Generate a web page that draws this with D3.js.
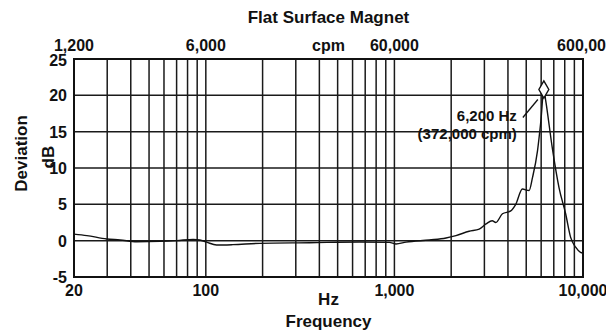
<!DOCTYPE html>
<html>
<head>
<meta charset="utf-8">
<script src="https://cdn.jsdelivr.net/npm/d3@7"></script>
<style>
  body { margin: 0; background: #fff; }
  text { font-family: "Liberation Sans", Arial, sans-serif; font-weight: bold; fill: #111; }
</style>
</head>
<body>
<div id="chart"></div>
<script>
// response curve (Hz, dB)
var freqHz = [20, 23.4, 29.8, 35.1, 43, 57, 70, 85.7, 93, 101, 114, 139, 193, 355, 653, 940,
  1020, 1153, 1532, 1878, 2120, 2490, 2816, 3060, 3300, 3450, 3740, 4140, 4400, 4770, 5180,
  5400, 5740, 5980, 6200, 6340, 6870, 7460, 8090, 8600, 9140, 9700, 10000];
var devDb = [0.9, 0.7, 0.23, 0.1, -0.14, -0.1, 0, 0.18, 0.1, -0.2, -0.6, -0.55, -0.37, -0.28, -0.18, -0.23,
  -0.45, -0.2, 0.1, 0.37, 0.7, 1.3, 1.6, 2.3, 2.75, 2.5, 3.7, 4.1, 5.0, 7.1, 6.9,
  8.7, 12.4, 16.5, 20.8, 19.3, 12.8, 7.3, 3.7, 0.45, -0.9, -1.6, -1.7];

var hzTicks = [20, 100, 1000, 10000];
var hzTickLabels = ["20", "100", "1,000", "10,000"];
var cpmTickLabels = ["1,200", "6,000", "60,000", "600,000"];
var dbTicks = [-5, 0, 5, 10, 15, 20, 25];
var peakHz = 6200, peakDb = 20.8;

var width = 606, height = 335;
var margin = {top: 59, right: 23, bottom: 58, left: 74};

var svg = d3.select("#chart").append("svg")
  .attr("width", width)
  .attr("height", height);

var x = d3.scaleLog()
  .domain([20, 10000])
  .range([margin.left, width - margin.right]);
var y = d3.scaleLinear()
  .domain([-5, 25])
  .range([height - margin.bottom, margin.top]);

// grid: every 1..9 x decade
var gridHz = [];
[10, 100, 1000].forEach(function(dec) {
  d3.range(1, 10).forEach(function(m) {
    var f = m * dec;
    if (f > 20 && f < 10000) gridHz.push(f);
  });
});

svg.append("g")
  .selectAll("line")
  .data(gridHz)
  .join("line")
  .attr("x1", function(d) { return x(d); })
  .attr("x2", function(d) { return x(d); })
  .attr("y1", y(25))
  .attr("y2", y(-5))
  .attr("stroke", "#1a1a1a")
  .attr("stroke-width", 1.5);

svg.append("g")
  .selectAll("line")
  .data(dbTicks.slice(1, -1))
  .join("line")
  .attr("x1", x(20))
  .attr("x2", x(10000))
  .attr("y1", function(d) { return y(d); })
  .attr("y2", function(d) { return y(d); })
  .attr("stroke", "#1a1a1a")
  .attr("stroke-width", 1.5);

// frame
svg.append("rect")
  .attr("x", x(20))
  .attr("y", y(25))
  .attr("width", x(10000) - x(20))
  .attr("height", y(-5) - y(25))
  .attr("fill", "none")
  .attr("stroke", "#111")
  .attr("stroke-width", 2);

// y labels
svg.append("g")
  .selectAll("text")
  .data(dbTicks)
  .join("text")
  .attr("x", x(20) - 7)
  .attr("y", function(d) { return y(d) + (d === 25 ? 7 : 6); })
  .attr("text-anchor", "end")
  .style("font-size", "16px")
  .text(function(d) { return d; });

// bottom labels (Hz)
svg.append("g")
  .selectAll("text")
  .data(hzTicks)
  .join("text")
  .attr("x", function(d) { return x(d); })
  .attr("y", y(-5) + 19)
  .attr("text-anchor", "middle")
  .style("font-size", "16px")
  .text(function(d, i) { return hzTickLabels[i]; });

// top labels (cpm)
svg.append("g")
  .selectAll("text")
  .data(hzTicks)
  .join("text")
  .attr("x", function(d) { return x(d) + (d === 10000 ? 3 : 0); })
  .attr("y", y(25) - 8)
  .attr("text-anchor", "middle")
  .style("font-size", "16px")
  .text(function(d, i) { return cpmTickLabels[i]; });

var midX = (x(20) + x(10000)) / 2;
svg.append("text").attr("x", midX).attr("y", y(25) - 8)
  .attr("text-anchor", "middle").style("font-size", "16px").text("cpm");
svg.append("text").attr("x", midX).attr("y", y(-5) + 28)
  .attr("text-anchor", "middle").style("font-size", "17px").text("Hz");
svg.append("text").attr("x", midX).attr("y", height - 8)
  .attr("text-anchor", "middle").style("font-size", "17px").text("Frequency");

svg.append("text").attr("x", midX).attr("y", 23)
  .attr("text-anchor", "middle").style("font-size", "17px").text("Flat Surface Magnet");

// y axis titles
svg.append("text")
  .attr("transform", "translate(27," + y(12) + ") rotate(-90)")
  .attr("text-anchor", "middle").style("font-size", "17px").text("Deviation");
svg.append("text")
  .attr("transform", "translate(54," + y(11.5) + ") rotate(-90)")
  .attr("text-anchor", "middle").style("font-size", "17px").text("dB");

// curve
var line = d3.line()
  .x(function(d, i) { return x(freqHz[i]); })
  .y(function(d) { return y(d); })
  .curve(d3.curveMonotoneX);

svg.append("path")
  .datum(devDb)
  .attr("d", line)
  .attr("fill", "none")
  .attr("stroke", "#111")
  .attr("stroke-width", 1.4);

// peak marker + note
var px = x(peakHz), py = y(peakDb);
svg.append("path")
  .attr("d", d3.symbol().type(d3.symbolDiamond).size(85)())
  .attr("transform", "translate(" + px + "," + py + ")")
  .attr("fill", "#fff")
  .attr("stroke", "#111")
  .attr("stroke-width", 1.4);
svg.append("line")
  .attr("x1", px - 21).attr("y1", py + 28)
  .attr("x2", px - 6).attr("y2", py + 10)
  .attr("stroke", "#111").attr("stroke-width", 1.3);
svg.append("text").attr("x", px - 27).attr("y", py + 31)
  .attr("text-anchor", "end").style("font-size", "15px").text("6,200 Hz");
svg.append("text").attr("x", px - 27).attr("y", py + 49)
  .attr("text-anchor", "end").style("font-size", "15px").text("(372,000 cpm)");
</script>
</body>
</html>
